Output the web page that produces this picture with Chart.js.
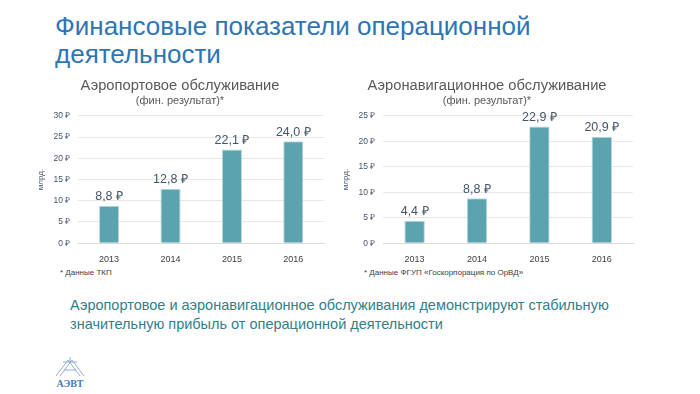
<!DOCTYPE html>
<html lang="ru">
<head>
<meta charset="utf-8">
<script src="https://cdn.jsdelivr.net/npm/chart.js@4.4.1/dist/chart.umd.min.js"></script>
<style>
  html, body { margin: 0; padding: 0; background: #fff; }
  body { width: 700px; height: 394px; position: relative; overflow: hidden; font-family: "Liberation Sans", Arial, sans-serif; }
  #mainTitle { position: absolute; left: 55px; top: 12px; font-size: 26px; line-height: 28px; color: #2e75b6; }
  .box { position: absolute; }
  .note { position: absolute; font-size: 8px; color: #404040; }
  #summary { position: absolute; left: 70px; top: 296px; font-size: 14.5px; line-height: 19px; color: #31808a; }
  #logo { position: absolute; left: 50px; top: 354px; width: 40px; height: 36px; }
</style>
</head>
<body>
<div id="mainTitle">Финансовые показатели операционной<br>деятельности</div>

<div class="box" style="left:30px; top:72px; width:300px; height:196px;"><canvas id="chartLeft"></canvas></div>
<div class="box" style="left:335px; top:72px; width:304px; height:196px;"><canvas id="chartRight"></canvas></div>

<div class="note" style="left:60px; top:268px;">* Данные ТКП</div>
<div class="note" style="left:364px; top:268px;">* Данные ФГУП «Госкорпорация по ОрВД»</div>

<div id="summary">Аэропортовое и аэронавигационное обслуживания демонстрируют стабильную<br>значительную прибыль от операционной деятельности</div>

<div id="logo">
  <svg width="40" height="36" viewBox="0 0 40 36">
    <g stroke="#7d9cc8" stroke-width="0.8" fill="none">
      <path d="M6 22 L18 6 L30 22"/>
      <path d="M10 22 L22 6 L34 22"/>
      <path d="M13 8 L27 8"/>
      <path d="M14 16 L26 16"/>
      <path d="M20 3 L20 8"/>
    </g>
    <text x="20" y="33" text-anchor="middle" font-family="Liberation Serif, serif" font-weight="bold" font-size="10" fill="#4a78b4">АЭВТ</text>
  </svg>
</div>

<script>
// Категории и значения (млрд руб.)
const years = ['2013', '2014', '2015', '2016'];
const airportValues = [8.8, 12.8, 22.1, 24.0];
const airnavValues = [4.4, 8.8, 22.9, 20.9];
const airportTicks = { max: 30, step: 5 };
const airnavTicks = { max: 25, step: 5 };

const barColor = '#5ba3ae';
const textGray = '#595959';
const fontFamily = '"Liberation Sans", Arial, sans-serif';

// Подписи значений над столбцами
const valueLabels = {
  id: 'valueLabels',
  afterDatasetsDraw(chart) {
    const ctx = chart.ctx;
    const meta = chart.getDatasetMeta(0);
    ctx.save();
    ctx.font = '12.5px ' + fontFamily;
    ctx.fillStyle = '#44546a';
    ctx.textAlign = 'center';
    ctx.textBaseline = 'bottom';
    meta.data.forEach((bar, i) => {
      const v = chart.data.datasets[0].data[i];
      const txt = v.toFixed(1).replace('.', ',') + ' ₽';
      ctx.fillText(txt, bar.x, bar.y - 3);
    });
    ctx.restore();
  }
};

function makeChart(id, title, values, tickCfg) {
  const ctx = document.getElementById(id).getContext('2d');
  return new Chart(ctx, {
    type: 'bar',
    data: {
      labels: years,
      datasets: [{
        data: values,
        backgroundColor: barColor,
        borderColor: '#b8dade',
        borderWidth: 1,
        barPercentage: 0.41,
        categoryPercentage: 0.8
      }]
    },
    options: {
      responsive: true,
      maintainAspectRatio: false,
      animation: false,
      layout: { padding: { left: 6, right: 6, top: 0, bottom: 0 } },
      plugins: {
        legend: { display: false },
        tooltip: { enabled: false },
        title: {
          display: true,
          text: title,
          color: textGray,
          font: { size: 14.7, family: fontFamily, weight: 'normal' },
          padding: { top: 5, bottom: 0 }
        },
        subtitle: {
          display: true,
          text: '(фин. результат)*',
          color: textGray,
          font: { size: 11, family: fontFamily },
          padding: { top: 0, bottom: 8 }
        }
      },
      scales: {
        x: {
          grid: { display: false },
          border: { color: '#d9d9d9' },
          ticks: { color: '#404040', font: { size: 9, family: fontFamily }, padding: 3 }
        },
        y: {
          min: 0,
          max: tickCfg.max,
          border: { display: false },
          grid: { color: '#e8e8e8', drawTicks: false },
          ticks: {
            stepSize: tickCfg.step,
            color: '#44546a',
            padding: 8,
            font: { size: 8.5, family: fontFamily },
            callback: v => v + ' ₽'
          },
          title: {
            display: true,
            text: 'млрд.',
            color: '#44546a',
            font: { size: 8, family: fontFamily },
            padding: 0
          }
        }
      }
    },
    plugins: [valueLabels]
  });
}

makeChart('chartLeft', 'Аэропортовое обслуживание', airportValues, airportTicks);
makeChart('chartRight', 'Аэронавигационное обслуживание', airnavValues, airnavTicks);
</script>
</body>
</html>
